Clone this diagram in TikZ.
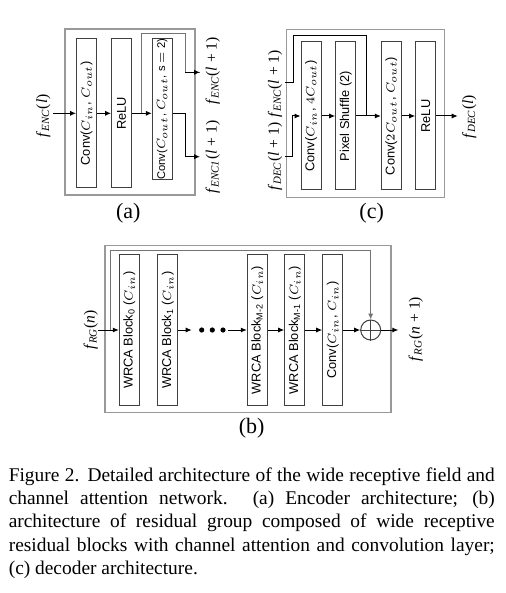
\documentclass[tikz,border=0pt]{standalone}
\usepackage{fontspec}
\setmainfont{Liberation Serif}
\setsansfont{Liberation Sans}
\usetikzlibrary{arrows.meta}
\definecolor{framegray}{gray}{0.6}
\definecolor{skipgray}{gray}{0.45}
\definecolor{blockgray}{gray}{0.25}
\newcommand{\fmap}[2]{\textit{f}\textsubscript{\textit{#1}}(#2)}

\begin{document}
\begin{tikzpicture}[x=0.5pt,y=-0.5pt,line width=0.5pt,
		>={Latex[length=3pt,width=2.6pt]},
		frame/.style={draw=framegray,line width=0.6pt},
		block/.style={draw=blockgray,rotate=90,minimum height=10pt,inner sep=0pt,
			font=\sffamily\fontsize{6.4}{7}\selectfont},
		feat/.style={rotate=90,inner sep=0pt,font=\fontsize{7.8}{9}\selectfont},
		sub/.style={font=\fontsize{11}{12}\selectfont}]
	\useasboundingbox (0,0) rectangle (506,593);
	% (a) encoder
	\draw[frame] (65,29) rectangle (195,195);
	\node[block,minimum width=74.4pt] (conva) at (86.5,113.3) {Conv($C_{in}$, $C_{out}$)};
	\node[block,minimum width=74.4pt] (relua) at (121.5,113.3) {ReLU};
	\node[block,minimum width=70.2pt,font=\sffamily\fontsize{5.6}{7}\selectfont] (convb) at (162.3,109.2)
		{Conv($C_{out}$, $C_{out}$, s $=$ 2)};
	\coordinate (ina) at (53,113.3);
	\coordinate (splita) at (141.7,113.3);
	\coordinate (outa) at (200,72.3);
	\coordinate (outaone) at (200,156.7);
	\draw[->] (ina) -- (conva.north);
	\draw[->] (conva.south) -- (relua.north);
	\draw[->] (relua.south) -- (relua.south -| convb.north);
	\draw[skipgray] (splita) |- (185,33.3) |- (outa);
	\draw[->] (185,72.3) -- (outa);
	\draw[->] (convb.south |- splita) -- (185.7,113.3) |- (outaone);
	\node[feat] (fenc) at (43.3,116) {\fmap{ENC}{\textit{l}}};
	\node[feat] (fencout) at (212.7,71) {\fmap{ENC}{\textit{l} + 1}};
	\node[feat] (fencone) at (212.7,157) {\fmap{ENC1}{\textit{l} + 1}};
	\node[sub] (capa) at (128.3,213.3) {(a)};
	% (c) decoder
	\draw[frame] (286.7,29.3) rectangle (444.3,197.7);
	\node[block,minimum width=74pt] (convc) at (311,116) {Conv($C_{in}$, $4C_{out}$)};
	\node[block,minimum width=74pt] (pixsh) at (345.7,116) {Pixel Shuffle (2)};
	\node[block,minimum width=74pt] (convd) at (391.3,116) {Conv($2C_{out}$, $C_{out}$)};
	\node[block,minimum width=74pt] (reluc) at (425.7,116) {ReLU};
	\coordinate (indec) at (285,156.7);
	\coordinate (inenc) at (285,82.7);
	\coordinate (joinc) at (366.7,116);
	\coordinate (outc) at (457.7,116);
	\draw[->] (indec) -- (292.3,156.7) |- (convc.north);
	\draw (inenc) -| (293.3,36) -| (joinc);
	\draw[->] (convc.south) -- (pixsh.north);
	\draw[->] (pixsh.south) -- (convd.north);
	\draw[->] (convd.south) -- (reluc.north);
	\draw[->] (reluc.south) -- (outc);
	\node[feat] (fencin) at (275,84) {\fmap{ENC}{\textit{l} + 1}};
	\node[feat] (fdecin) at (275,156.7) {\fmap{DEC}{\textit{l} + 1}};
	\node[feat] (fdec) at (469.3,117) {\fmap{DEC}{\textit{l}}};
	\node[sub] (capc) at (371.7,213.3) {(c)};
	% (b) residual group
	\draw[frame] (105,245.7) rectangle (391,412.7);
	\node[block,minimum width=75.7pt] (blkzero) at (129.3,330) {WRCA Block\textsubscript{0} ($C_{in}$)};
	\node[block,minimum width=75.7pt] (blkone) at (167.7,330) {WRCA Block\textsubscript{1} ($C_{in}$)};
	\node[block,minimum width=75.7pt] (blkmtwo) at (257.3,330) {WRCA Block\textsubscript{M-2} ($C_{in}$)};
	\node[block,minimum width=75.7pt] (blkmone) at (294.7,330) {WRCA Block\textsubscript{M-1} ($C_{in}$)};
	\node[block,minimum width=75.7pt] (convr) at (332.7,330) {Conv($C_{in}$, $C_{in}$)};
	\node[draw=blockgray,circle,minimum size=10pt,inner sep=0pt] (sum) at (370.7,330) {};
	\draw[blockgray] (sum.north) -- (sum.south) (sum.west) -- (sum.east);
	\coordinate (inrg) at (98.3,330);
	\coordinate (splitb) at (110,330);
	\coordinate (dotsin) at (191.7,330);
	\coordinate (dotsout) at (228.3,330);
	\coordinate (outb) at (398.3,330);
	\draw[->] (inrg) -- (blkzero.north);
	\draw[skipgray,->] (splitb) |- (370.7,250.3) -- (sum.north);
	\draw[->] (blkone.south) -- (dotsin);
	\foreach \dx in {201.7,212.3,223}
		\fill (\dx,330) circle (1.3pt);
	\draw[->] (dotsout) -- (blkmtwo.north);
	\draw[->] (blkmtwo.south) -- (blkmone.north);
	\draw[->] (blkmone.south) -- (convr.north);
	\draw[->] (convr.south) -- (sum.west);
	\draw[->] (sum.east) -- (outb);
	\node[feat] (frg) at (90.7,330) {\fmap{RG}{\textit{n}}};
	\node[feat] (frgout) at (415.7,329) {\fmap{RG}{\textit{n} + 1}};
	\node[sub] (capb) at (251.7,428.3) {(b)};
	% caption
	\node[anchor=north west,inner sep=0pt,text width=243pt,align=justify,
		font=\fontsize{9.7}{11.65}\selectfont] (caption) at (8.3,467)
		{Figure 2. Detailed architecture of the wide receptive field and\linebreak
		channel attention network. (a) Encoder architecture; (b)\linebreak
		architecture of residual group composed of wide receptive\linebreak
		residual blocks with channel attention and convolution layer;\linebreak
		(c) decoder architecture.};
\end{tikzpicture}
\end{document}
